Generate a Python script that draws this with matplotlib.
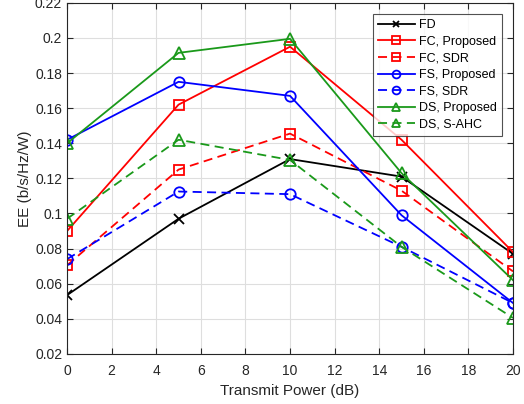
import numpy as np
import matplotlib.pyplot as plt

plt.rcParams['font.family'] = ['Liberation Sans', 'DejaVu Sans']

# == Data == #
power = [0, 5, 10, 15, 20]
fd = [0.0535, 0.097, 0.131, 0.121, 0.077]
fc_prop = [0.090, 0.162, 0.195, 0.142, 0.078]
fc_sdr = [0.0705, 0.125, 0.1455, 0.113, 0.067]
fs_prop = [0.142, 0.175, 0.167, 0.099, 0.049]
fs_sdr = [0.074, 0.1125, 0.111, 0.081, 0.049]
ds_prop = [0.140, 0.1915, 0.1995, 0.123, 0.062]
ds_ahc = [0.097, 0.142, 0.1305, 0.081, 0.0405]

green = (0.1, 0.6, 0.1)
axcol = (0.15, 0.15, 0.15)

fig = plt.figure(figsize=(5.24, 4.04), dpi=100)
ax = fig.add_axes([0.128, 0.124, 0.851, 0.869])

lw = 1.3
ms = 7.5
mew = 1.3
dash = (5, 3)
ax.plot(power, fd, '-', color='k', marker='x', lw=lw, ms=6.5, mew=mew, label='FD')
ax.plot(power, fc_prop, '-', color='r', marker='s', mfc='none', lw=lw, ms=ms, mew=mew, label='FC, Proposed')
ax.plot(power, fc_sdr, '--', color='r', marker='s', mfc='none', lw=lw, ms=ms, mew=mew, dashes=dash, label='FC, SDR')
ax.plot(power, fs_prop, '-', color='b', marker='o', mfc='none', lw=lw, ms=ms, mew=mew, label='FS, Proposed')
ax.plot(power, fs_sdr, '--', color='b', marker='o', mfc='none', lw=lw, ms=ms, mew=mew, dashes=dash, label='FS, SDR')
ax.plot(power, ds_prop, '-', color=green, marker='^', mfc='none', lw=lw, ms=8.5, mew=mew, label='DS, Proposed')
ax.plot(power, ds_ahc, '--', color=green, marker='^', mfc='none', lw=lw, ms=8.5, mew=mew, dashes=dash, label='DS, S-AHC')

ax.set_xlim(0, 20)
ax.set_ylim(0.02, 0.22)
ax.set_xticks(np.arange(0, 21, 2))
ax.set_yticks(np.arange(0.02, 0.221, 0.02))
ax.set_yticklabels(['0.02', '0.04', '0.06', '0.08', '0.1', '0.12', '0.14',
                    '0.16', '0.18', '0.2', '0.22'])
ax.grid(True, color=(0.87, 0.87, 0.87), lw=0.8)
ax.set_axisbelow(True)
ax.tick_params(direction='in', top=True, right=True, length=4, colors=axcol,
               labelsize=10, labelcolor=axcol)
ax.tick_params(axis='x', pad=7.5)
for s in ax.spines.values():
    s.set_color(axcol)
    s.set_linewidth(0.8)

ax.set_xlabel('Transmit Power (dB)', fontsize=11, color=axcol, labelpad=4)
ax.set_ylabel('EE (b/s/Hz/W)', fontsize=11, color=axcol, labelpad=2)

leg = ax.legend(loc='upper right', fontsize=9, frameon=True, fancybox=False,
                edgecolor=axcol, borderaxespad=0.9, handlelength=3.0,
                labelspacing=0.37, borderpad=0.4, handletextpad=0.3,
                markerscale=0.75)
leg.get_frame().set_linewidth(0.8)

fig.savefig('out.png', dpi=100)
